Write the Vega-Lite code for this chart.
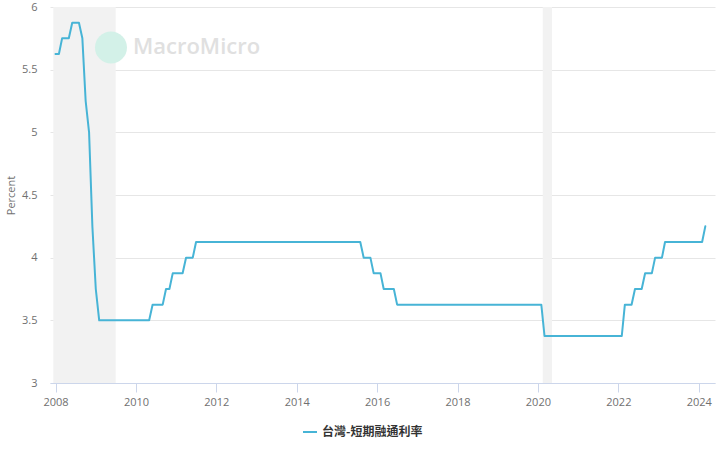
{
  "$schema": "https://vega.github.io/schema/vega-lite/v6.json",
  "width": 665,
  "height": 376,
  "autosize": {"type": "none"},
  "padding": {"left": 50, "top": 7, "right": 5, "bottom": 67},
  "background": "#ffffff",
  "config": {
    "view": {"stroke": null},
    "font": "Open Sans"
  },
  "datasets": {
    "series": [
      {"date": "2008-01-01", "rate": 5.625},
      {"date": "2008-02-01", "rate": 5.625},
      {"date": "2008-03-01", "rate": 5.75},
      {"date": "2008-05-01", "rate": 5.75},
      {"date": "2008-06-01", "rate": 5.875},
      {"date": "2008-08-01", "rate": 5.875},
      {"date": "2008-09-01", "rate": 5.75},
      {"date": "2008-10-01", "rate": 5.25},
      {"date": "2008-11-01", "rate": 5.0},
      {"date": "2008-12-01", "rate": 4.25},
      {"date": "2009-01-01", "rate": 3.75},
      {"date": "2009-02-01", "rate": 3.5},
      {"date": "2010-05-01", "rate": 3.5},
      {"date": "2010-06-01", "rate": 3.625},
      {"date": "2010-09-01", "rate": 3.625},
      {"date": "2010-10-01", "rate": 3.75},
      {"date": "2010-11-01", "rate": 3.75},
      {"date": "2010-12-01", "rate": 3.875},
      {"date": "2011-03-01", "rate": 3.875},
      {"date": "2011-04-01", "rate": 4.0},
      {"date": "2011-06-01", "rate": 4.0},
      {"date": "2011-07-01", "rate": 4.125},
      {"date": "2015-08-01", "rate": 4.125},
      {"date": "2015-09-01", "rate": 4.0},
      {"date": "2015-11-01", "rate": 4.0},
      {"date": "2015-12-01", "rate": 3.875},
      {"date": "2016-02-01", "rate": 3.875},
      {"date": "2016-03-01", "rate": 3.75},
      {"date": "2016-06-01", "rate": 3.75},
      {"date": "2016-07-01", "rate": 3.625},
      {"date": "2020-02-01", "rate": 3.625},
      {"date": "2020-03-01", "rate": 3.375},
      {"date": "2022-02-01", "rate": 3.375},
      {"date": "2022-03-01", "rate": 3.625},
      {"date": "2022-05-01", "rate": 3.625},
      {"date": "2022-06-01", "rate": 3.75},
      {"date": "2022-08-01", "rate": 3.75},
      {"date": "2022-09-01", "rate": 3.875},
      {"date": "2022-11-01", "rate": 3.875},
      {"date": "2022-12-01", "rate": 4.0},
      {"date": "2023-02-01", "rate": 4.0},
      {"date": "2023-03-01", "rate": 4.125},
      {"date": "2024-02-01", "rate": 4.125},
      {"date": "2024-03-01", "rate": 4.25}
    ],
    "bands": [
      {"start": "2007-12-12", "end": "2009-07-01"},
      {"start": "2020-02-14", "end": "2020-05-08"}
    ],
    "mark": [
      {"date": "2009-05-19", "rate": 5.677, "label": "MacroMicro", "textdate": "2009-12-05"}
    ]
  },
  "layer": [
    {
      "data": {"name": "bands"},
      "mark": {"type": "rect", "color": "#f2f2f2"},
      "encoding": {
        "x": {"field": "start", "type": "temporal"},
        "x2": {"field": "end"}
      }
    },
    {
      "data": {"name": "mark"},
      "mark": {"type": "point", "shape": "circle", "filled": true, "color": "#d3f1e8", "opacity": 1, "size": 1024},
      "encoding": {
        "x": {"field": "date", "type": "temporal"},
        "y": {"field": "rate", "type": "quantitative"}
      }
    },
    {
      "data": {"name": "mark"},
      "mark": {"type": "text", "align": "left", "baseline": "middle", "fontSize": 22, "fontWeight": 600, "color": "#e0e0e0", "font": "Open Sans"},
      "encoding": {
        "x": {"field": "textdate", "type": "temporal"},
        "y": {"field": "rate", "type": "quantitative"},
        "text": {"field": "label"}
      }
    },
    {
      "data": {"name": "series"},
      "mark": {"type": "line", "strokeWidth": 2, "strokeCap": "round", "strokeJoin": "round"},
      "encoding": {
        "x": {
          "field": "date",
          "type": "temporal",
          "scale": {"type": "utc", "domain": [{"year": 2007, "month": 11, "date": 12, "utc": true}, {"year": 2024, "month": 5, "date": 28, "utc": true}]},
          "axis": {
            "title": null,
            "grid": false,
            "domain": true,
            "domainColor": "#ccd6eb",
            "ticks": true,
            "tickColor": "#ccd6eb",
            "tickSize": 9,
            "tickCount": {"interval": "year", "step": 2},
            "format": "%Y",
            "labelFontSize": 11,
            "labelColor": "#707070",
            "labelPadding": 4,
            "labelFont": "Open Sans"
          }
        },
        "y": {
          "field": "rate",
          "type": "quantitative",
          "scale": {"domain": [3, 6], "nice": false, "zero": false},
          "axis": {
            "title": "Percent",
            "titleFontSize": 11,
            "titleFontWeight": "normal",
            "titleColor": "#707070",
            "titleFont": "Open Sans",
            "titlePadding": 5,
            "values": [3, 3.5, 4, 4.5, 5, 5.5, 6],
            "format": "~g",
            "domain": false,
            "ticks": false,
            "grid": true,
            "gridColor": "#e6e6e6",
            "labelFontSize": 11,
            "labelColor": "#707070",
            "labelPadding": 13,
            "labelFont": "Open Sans"
          }
        },
        "color": {
          "field": "series",
          "type": "nominal",
          "scale": {"range": ["#47b4d6"]},
          "legend": {
            "title": null,
            "orient": "none",
            "legendX": 252,
            "legendY": 417,
            "direction": "horizontal",
            "symbolType": "stroke",
            "symbolStrokeWidth": 2,
            "symbolSize": 196,
            "labelFontSize": 12,
            "labelFontWeight": "bold",
            "labelColor": "#333333",
            "labelFont": "Noto Sans CJK TC",
            "padding": 0
          }
        }
      },
      "transform": [{"calculate": "'台灣-短期融通利率'", "as": "series"}]
    }
  ]
}
